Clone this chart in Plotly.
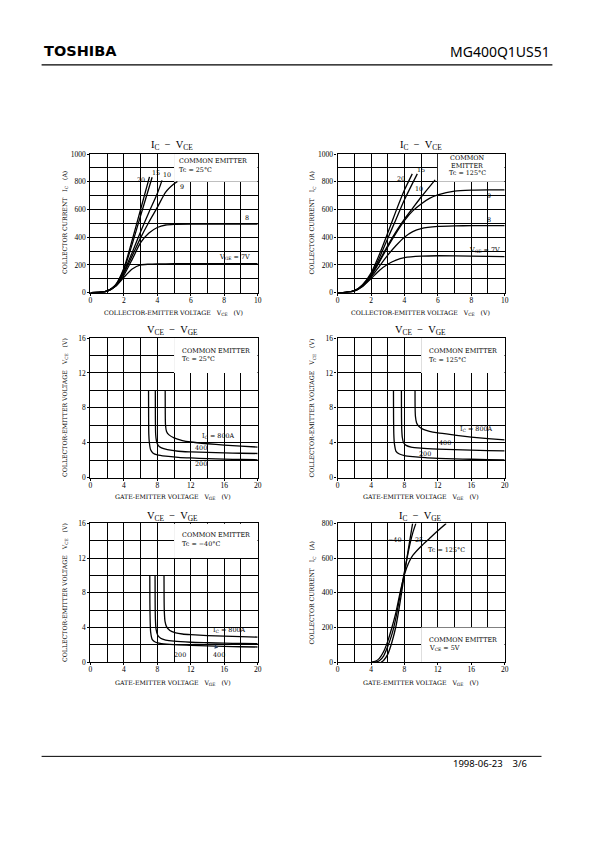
import plotly.graph_objects as go

# ---------------- DATA ----------------
# Plot 1: IC - VCE, Tc = 25 C  (x: VCE [V], y: IC [A])
p1_vce_7 = [0, 0.5, 1, 1.5, 2, 2.5, 3, 3.5, 4, 5, 6, 8, 10]
p1_ic_7 = [0, 1, 10, 45, 110, 170, 200, 205, 207, 208, 208, 208, 208]
p1_vce_8 = [0, 0.5, 1, 1.5, 2, 2.5, 3, 3.5, 4, 4.5, 5, 6, 8, 10]
p1_ic_8 = [0, 1, 10, 45, 125, 240, 360, 430, 470, 488, 493, 495, 495, 495]
p1_vce_9 = [0, 0.5, 1, 1.5, 2, 2.5, 3, 3.5, 4, 4.5, 5, 5.2]
p1_ic_9 = [0, 1, 10, 48, 140, 265, 395, 510, 615, 725, 785, 802]
p1_vce_10 = [0, 0.5, 1, 1.5, 2, 2.5, 3, 3.5, 4, 4.28]
p1_ic_10 = [0, 1, 10, 50, 150, 290, 440, 580, 715, 810]
p1_vce_15 = [0, 0.5, 1, 1.5, 2, 2.5, 3, 3.69]
p1_ic_15 = [0, 1, 10, 53, 165, 350, 555, 833]
p1_vce_20 = [0, 0.5, 1, 1.5, 2, 2.5, 3, 3.53]
p1_ic_20 = [0, 1, 10, 55, 175, 380, 600, 835]

# Plot 2: IC - VCE, Tc = 125 C
p2_vce_7 = [0, 0.5, 1, 1.5, 2, 2.5, 3, 3.5, 4, 5, 6, 8, 10]
p2_ic_7 = [0, 2, 12, 45, 100, 160, 205, 235, 252, 263, 266, 263, 260]
p2_vce_8 = [0, 0.5, 1, 1.5, 2, 2.5, 3, 3.5, 4, 4.5, 5, 6, 7, 8, 10]
p2_ic_8 = [0, 2, 12, 48, 110, 190, 270, 340, 400, 440, 462, 478, 482, 483, 483]
p2_vce_9 = [0, 0.5, 1, 1.5, 2, 2.5, 3, 3.5, 4, 4.5, 5, 5.5, 6, 7, 8, 9, 10]
p2_ic_9 = [0, 2, 12, 50, 120, 220, 330, 430, 520, 590, 640, 680, 705, 733, 740, 742, 742]
p2_vce_10 = [0, 0.5, 1, 1.5, 2, 2.5, 3, 3.5, 4, 4.5, 5, 5.84]
p2_ic_10 = [0, 2, 12, 52, 125, 230, 340, 440, 530, 610, 690, 814]
p2_vce_15 = [0, 0.5, 1, 1.5, 2, 2.5, 3, 3.5, 4, 4.77]
p2_ic_15 = [0, 2, 12, 55, 130, 250, 390, 530, 670, 857]
p2_vce_20 = [0, 0.5, 1, 1.5, 2, 2.5, 3, 3.5, 4, 4.47]
p2_ic_20 = [0, 2, 12, 57, 140, 275, 430, 590, 740, 857]

# Plot 3: VCE - VGE, Tc = 25 C (x: VGE [V], y: VCE [V])
p3_vge_200 = [6.95, 6.96, 6.98, 7.05, 7.2, 7.5, 8.0, 9, 10.5, 12, 14, 16, 18, 20]
p3_vce_200 = [10, 7, 5, 4, 3.2, 2.8, 2.6, 2.45, 2.32, 2.25, 2.18, 2.12, 2.08, 2.04]
p3_vge_400 = [7.76, 7.77, 7.8, 7.9, 8.1, 8.5, 9.2, 10.5, 12, 14, 16, 18, 20]
p3_vce_400 = [10, 7, 5, 4.2, 3.7, 3.4, 3.2, 3.02, 2.95, 2.88, 2.83, 2.79, 2.76]
p3_vge_800 = [8.94, 8.95, 8.98, 9.1, 9.4, 10, 11, 12, 14, 16, 18, 20]
p3_vce_800 = [10, 7.5, 6, 5.3, 4.9, 4.55, 4.25, 4.08, 3.88, 3.73, 3.6, 3.5]

# Plot 4: VCE - VGE, Tc = 125 C
p4_vge_200 = [6.69, 6.7, 6.73, 6.8, 7.0, 7.4, 8, 9, 10.5, 12, 14, 16, 18, 20]
p4_vce_200 = [10, 7, 5, 3.9, 3.0, 2.7, 2.52, 2.4, 2.28, 2.21, 2.15, 2.1, 2.07, 2.04]
p4_vge_400 = [7.64, 7.65, 7.68, 7.75, 7.9, 8.2, 8.8, 10, 12, 14, 16, 18, 20]
p4_vce_400 = [10, 7, 5.5, 4.6, 4.0, 3.7, 3.5, 3.38, 3.27, 3.2, 3.15, 3.1, 3.07]
p4_vge_800 = [9.27, 9.28, 9.32, 9.45, 9.7, 10.2, 11, 12, 14, 16, 18, 20]
p4_vce_800 = [10, 8, 7, 6.3, 5.9, 5.55, 5.3, 5.12, 4.88, 4.65, 4.47, 4.32]

# Plot 5: VCE - VGE, Tc = -40 C
p5_vge_200 = [7.1, 7.11, 7.14, 7.2, 7.4, 7.8, 8.5, 10, 12, 14, 16, 18, 20]
p5_vce_200 = [10, 7, 5, 3.5, 2.6, 2.3, 2.15, 2.02, 1.95, 1.88, 1.82, 1.78, 1.75]
p5_vge_400 = [7.73, 7.74, 7.77, 7.85, 8.05, 8.4, 9, 10, 12, 14, 16, 18, 20]
p5_vce_400 = [10, 7, 5, 3.8, 3.1, 2.75, 2.55, 2.42, 2.3, 2.24, 2.19, 2.16, 2.13]
p5_vge_800 = [8.8, 8.81, 8.84, 8.92, 9.1, 9.5, 10.2, 11, 12, 14, 16, 18, 20]
p5_vce_800 = [10, 7.5, 5.8, 4.7, 4.1, 3.65, 3.38, 3.25, 3.17, 3.07, 3.0, 2.94, 2.89]

# Plot 6: IC - VGE, VCE = 5 V (x: VGE [V], y: IC [A])
p6_vge_125 = [4.0, 4.5, 5, 5.5, 6, 6.5, 7, 7.5, 8, 8.5, 9, 10, 11, 12, 13]
p6_ic_125 = [0, 5, 22, 60, 120, 200, 290, 405, 505, 572, 615, 668, 713, 758, 800]
p6_vge_25 = [4.55, 5, 5.5, 6, 6.5, 7, 7.5, 8, 8.5, 9, 9.37]
p6_ic_25 = [0, 8, 35, 90, 160, 260, 390, 520, 645, 745, 800]
p6_vge_m40 = [5.2, 5.5, 6, 6.5, 7, 7.5, 8, 8.5, 8.98]
p6_ic_m40 = [0, 10, 45, 115, 210, 350, 510, 660, 800]

# Tick labels
vce_ticks_10 = [0, 2, 4, 6, 8, 10]
ic_ticks_1000 = [0, 200, 400, 600, 800, 1000]
vge_ticks_20 = [0, 4, 8, 12, 16, 20]
vce_ticks_16 = [0, 4, 8, 12, 16]
ic_ticks_800 = [0, 200, 400, 600, 800]

# ---------------- LAYOUT HELPERS ----------------
W, H = 595, 842
SERIF = "Liberation Serif"
WSERIF = "DejaVu Serif"
SANS = "Noto Sans"
LBL = 6.4


def px(x):
    return x / W


def py(y):
    return 1 - y / H


COL_L = (89.3, 258.3)
COL_R = (339.0, 507.8)
ROW_1 = (151.7, 291.7)
ROW_2 = (337.7, 478.7)
ROW_3 = (525.0, 665.3)

fig = go.Figure()

panels = [
    (1, COL_L, ROW_1, [0, 10], [0, 1000], vce_ticks_10, 1, ic_ticks_1000, 100),
    (2, COL_R, ROW_1, [0, 10], [0, 1000], vce_ticks_10, 1, ic_ticks_1000, 100),
    (3, COL_L, ROW_2, [0, 20], [0, 16], vge_ticks_20, 2, vce_ticks_16, 2),
    (4, COL_R, ROW_2, [0, 20], [0, 16], vge_ticks_20, 2, vce_ticks_16, 2),
    (5, COL_L, ROW_3, [0, 20], [0, 16], vge_ticks_20, 2, vce_ticks_16, 2),
    (6, COL_R, ROW_3, [0, 20], [0, 800], vge_ticks_20, 2, ic_ticks_800, 100),
]

layout_axes = {}
for idx, col, row, xr, yr, xt, xm, yt, ym in panels:
    s = "" if idx == 1 else str(idx)
    common = dict(
        showline=True, linecolor="black", linewidth=1.2, mirror=True,
        showgrid=True, gridcolor="black", gridwidth=0.7,
        zeroline=False, ticks="outside", ticklen=2, tickcolor="black",
        tickfont=dict(family=SERIF, size=7.5, color="black"),
        minor=dict(showgrid=True, gridcolor="black", gridwidth=0.7, ticks=""),
        fixedrange=True,
    )
    layout_axes["xaxis" + s] = dict(
        common, domain=[px(col[0]), px(col[1])], range=xr,
        tickmode="array", tickvals=xt, minor=dict(common["minor"], dtick=xm),
        anchor="y" + s, ticklabelstandoff=-2,
    )
    layout_axes["yaxis" + s] = dict(
        common, domain=[py(row[1]), py(row[0])], range=yr,
        tickmode="array", tickvals=yt, minor=dict(common["minor"], dtick=ym),
        anchor="x" + s,
    )


def add_curve(ax, xs, ys):
    s = "" if ax == 1 else str(ax)
    fig.add_trace(go.Scatter(
        x=xs, y=ys, mode="lines", xaxis="x" + s, yaxis="y" + s,
        line=dict(color="black", width=1.3, shape="spline", smoothing=0.6),
        showlegend=False, hoverinfo="skip",
    ))


for xs, ys in [(p1_vce_7, p1_ic_7), (p1_vce_8, p1_ic_8), (p1_vce_9, p1_ic_9),
               (p1_vce_10, p1_ic_10), (p1_vce_15, p1_ic_15), (p1_vce_20, p1_ic_20)]:
    add_curve(1, xs, ys)
for xs, ys in [(p2_vce_7, p2_ic_7), (p2_vce_8, p2_ic_8), (p2_vce_9, p2_ic_9),
               (p2_vce_10, p2_ic_10), (p2_vce_15, p2_ic_15), (p2_vce_20, p2_ic_20)]:
    add_curve(2, xs, ys)
for xs, ys in [(p3_vge_200, p3_vce_200), (p3_vge_400, p3_vce_400), (p3_vge_800, p3_vce_800)]:
    add_curve(3, xs, ys)
for xs, ys in [(p4_vge_200, p4_vce_200), (p4_vge_400, p4_vce_400), (p4_vge_800, p4_vce_800)]:
    add_curve(4, xs, ys)
for xs, ys in [(p5_vge_200, p5_vce_200), (p5_vge_400, p5_vce_400), (p5_vge_800, p5_vce_800)]:
    add_curve(5, xs, ys)
for xs, ys in [(p6_vge_125, p6_ic_125), (p6_vge_25, p6_ic_25), (p6_vge_m40, p6_ic_m40)]:
    add_curve(6, xs, ys)

# white legend boxes (between grid and traces)
shapes = []
for ax, x0, x1, y0, y1 in [(1, 5, 10, 800, 1000), (2, 6, 10, 800, 1000),
                           (3, 10, 20, 12, 16), (4, 10, 20, 12, 16),
                           (5, 10, 20, 12, 16), (6, 10, 20, 0, 200)]:
    s = "" if ax == 1 else str(ax)
    shapes.append(dict(type="rect", xref="x" + s, yref="y" + s, x0=x0, x1=x1, y0=y0, y1=y1,
                       fillcolor="white", line=dict(width=0), layer="between"))

# header / footer lines
shapes.append(dict(type="line", xref="paper", yref="paper", x0=px(40), x1=px(556),
                   y0=py(61.5), y1=py(61.5), line=dict(color="black", width=1.2)))
shapes.append(dict(type="line", xref="paper", yref="paper", x0=px(40), x1=px(545),
                   y0=py(760.5), y1=py(760.5), line=dict(color="black", width=1)))

ann = []


def txt(ax, x, y, text, size=LBL, xanchor="left", yanchor="middle"):
    s = "" if ax == 1 else str(ax)
    ann.append(dict(xref="x" + s, yref="y" + s, x=x, y=y, text=text, showarrow=False,
                    xanchor=xanchor, yanchor=yanchor,
                    font=dict(family=WSERIF, size=size, color="black")))


def ptxt(x, y, text, size=7, family=SERIF, xanchor="center", angle=0):
    ann.append(dict(xref="paper", yref="paper", x=px(x), y=py(y), text=text, showarrow=False,
                    xanchor=xanchor, yanchor="middle", textangle=angle,
                    font=dict(family=family, size=size, color="black")))


# titles
ptxt(172, 143, "I<sub>C</sub>  −  V<sub>CE</sub>", size=10.5)
ptxt(423, 143, "I<sub>C</sub>  −  V<sub>CE</sub>", size=10.5)
ptxt(172, 330.5, "V<sub>CE</sub>  −  V<sub>GE</sub>", size=10.5)
ptxt(423, 330.5, "V<sub>CE</sub>  −  V<sub>GE</sub>", size=10.5)
ptxt(172, 518, "V<sub>CE</sub>  −  V<sub>GE</sub>", size=10.5)
ptxt(423, 518, "I<sub>C</sub>  −  V<sub>GE</sub>", size=10.5)

# axis titles
xt_vce = "COLLECTOR-EMITTER VOLTAGE   V<sub>CE</sub>   (V)"
xt_vge = "GATE-EMITTER VOLTAGE   V<sub>GE</sub>   (V)"
yt_ic = "COLLECTOR CURRENT   I<sub>C</sub>   (A)"
yt_vce = "COLLECTOR-EMITTER VOLTAGE   V<sub>CE</sub>   (V)"
AT = 6.2
ptxt(173, 312, xt_vce, size=AT, family=WSERIF)
ptxt(423, 312, xt_vce, size=AT, family=WSERIF)
ptxt(173, 498.5, xt_vge, size=AT, family=WSERIF)
ptxt(423, 498.5, xt_vge, size=AT, family=WSERIF)
ptxt(173, 686, xt_vge, size=AT, family=WSERIF)
ptxt(423, 686, xt_vge, size=AT, family=WSERIF)
ptxt(63, 221, yt_ic, size=AT, angle=-90, family=WSERIF)
ptxt(313, 221, yt_ic, size=AT, angle=-90, family=WSERIF)
ptxt(63, 408, yt_vce, size=AT, angle=-90, family=WSERIF)
ptxt(313, 408, yt_vce, size=AT, angle=-90, family=WSERIF)
ptxt(63, 595, yt_vce, size=AT, angle=-90, family=WSERIF)
ptxt(313, 595, yt_ic, size=AT, angle=-90, family=WSERIF)

# Plot 1 labels
txt(1, 5.15, 952, "COMMON EMITTER")
txt(1, 5.15, 886, "Tc = 25°C")
txt(1, 3.05, 810, "20", xanchor="center")
txt(1, 3.9, 866, "15", xanchor="center")
txt(1, 4.55, 850, "10", xanchor="center")
txt(1, 5.45, 762, "9", xanchor="center")
txt(1, 9.35, 540, "8", xanchor="center")
txt(1, 8.6, 255, "V<sub>GE</sub> = 7V", xanchor="center")

# Plot 2 labels
txt(2, 7.75, 970, "COMMON", xanchor="center")
txt(2, 7.75, 917, "EMITTER", xanchor="center")
txt(2, 7.75, 864, "Tc = 125°C", xanchor="center")
txt(2, 3.8, 817, "20", xanchor="center")
txt(2, 5.0, 886, "15", xanchor="center")
txt(2, 4.9, 745, "10", xanchor="center")
txt(2, 9.07, 695, "9", xanchor="center")
txt(2, 9.07, 524, "8", xanchor="center")
txt(2, 8.8, 305, "V<sub>GE</sub> = 7V", xanchor="center")

# Plot 3 labels
txt(3, 10.75, 14.5, "COMMON EMITTER")
txt(3, 10.75, 13.6, "Tc = 25°C")
txt(3, 15.3, 4.75, "I<sub>C</sub> = 800A", xanchor="center")
txt(3, 13.2, 3.4, "400", xanchor="center")
txt(3, 13.2, 1.55, "200", xanchor="center")

# Plot 4 labels
txt(4, 10.7, 14.5, "COMMON EMITTER")
txt(4, 10.7, 13.5, "Tc = 125°C")
txt(4, 16.6, 5.6, "I<sub>C</sub> = 800A", xanchor="center")
txt(4, 12.9, 4.0, "400", xanchor="center")
txt(4, 10.5, 2.75, "200", xanchor="center")

# Plot 5 labels
txt(5, 10.7, 14.7, "COMMON EMITTER")
txt(5, 10.7, 13.6, "Tc = −40°C")
txt(5, 16.65, 3.75, "I<sub>C</sub> = 800A", xanchor="center")
ann.append(dict(xref="x5", yref="y5", x=14.9, y=2.05, ax=15.35, ay=0.8, axref="x5", ayref="y5",
                text="400", showarrow=True, arrowhead=2, arrowsize=0.8, arrowwidth=1,
                standoff=0, startstandoff=4,
                font=dict(family=WSERIF, size=LBL, color="black")))
ann.append(dict(xref="x5", yref="y5", x=9.35, y=1.6, ax=10.7, ay=0.8, axref="x5", ayref="y5",
                text="200", showarrow=True, arrowhead=2, arrowsize=0.8, arrowwidth=1,
                standoff=0, startstandoff=5,
                font=dict(family=WSERIF, size=LBL, color="black")))

# Plot 6 labels
txt(6, 6.85, 703, "−40", xanchor="center")
txt(6, 9.8, 703, "25", xanchor="center")
txt(6, 10.6, 648, "Tc = 125°C")
txt(6, 10.7, 129, "COMMON EMITTER")
txt(6, 10.7, 84, "V<sub>CE</sub> = 5V")

# header / footer text
ptxt(40, 48, "<b>TOSHIBA</b>", size=14.5, family="DejaVu Sans", xanchor="left")
ptxt(556, 48, "MG400Q1US51", size=14, family=SANS, xanchor="right")
ptxt(532, 768, "1998-06-23    3/6", size=9.5, family=SANS, xanchor="right")

fig.update_layout(
    width=W, height=H, autosize=False,
    margin=dict(l=0, r=0, t=0, b=0),
    paper_bgcolor="white", plot_bgcolor="white",
    showlegend=False,
    shapes=shapes, annotations=ann,
    **layout_axes,
)

fig.write_html(
    "out.html",
    config={"displayModeBar": False},
    post_script="document.body.style.margin='0';document.body.style.padding='0';"
                "document.body.style.overflow='hidden';",
)
